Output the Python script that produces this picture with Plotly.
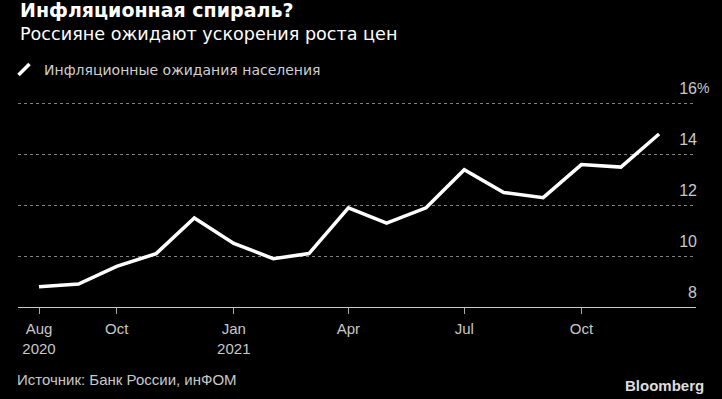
import plotly.graph_objects as go

# ---- data ----
months = ["2020-08-01", "2020-09-01", "2020-10-01", "2020-11-01", "2020-12-01",
          "2021-01-01", "2021-02-01", "2021-03-01", "2021-04-01", "2021-05-01",
          "2021-06-01", "2021-07-01", "2021-08-01", "2021-09-01", "2021-10-01",
          "2021-11-01", "2021-12-01"]
expectations = [8.8, 8.9, 9.6, 10.1, 11.5, 10.5, 9.9, 10.1, 11.9, 11.3,
                11.9, 13.4, 12.5, 12.3, 13.6, 13.5, 14.8]

x_tick_dates = ["2020-08-01", "2020-10-01", "2021-01-01", "2021-04-01", "2021-07-01", "2021-10-01"]
x_tick_labels = ["Aug<br>2020", "Oct", "Jan<br>2021", "Apr", "Jul", "Oct"]
y_tick_values = [8, 10, 12, 14, 16]
y_tick_labels = ["8", "10", "12", "14", "16"]

title_text = "Инфляционная спираль?"
subtitle_text = "Россияне ожидают ускорения роста цен"
series_name = "Инфляционные ожидания населения"
source_text = "Источник: Банк России, инФОМ"
brand_text = "Bloomberg"

# ---- layout geometry ----
W, H = 722, 399
ML, MR, MT, MB = 18, 26, 73, 92
PLOT_H = H - MT - MB
PLOT_W = W - ML - MR
BOTTOM = H - MB


def py(pix):
    return (BOTTOM - pix) / PLOT_H


def px(pix):
    return (pix - ML) / PLOT_W


SANS = "DejaVu Sans"
AXF = "Liberation Sans"

fig = go.Figure()
fig.add_trace(go.Scatter(
    x=months, y=expectations, mode="lines",
    line=dict(color="#ffffff", width=3.5),
    showlegend=False, hoverinfo="skip",
))
# legend entry with a slanted stroke icon
fig.add_trace(go.Scatter(
    x=[None], y=[None], mode="markers", name=series_name,
    marker=dict(symbol="line-ne", size=11, color="#ffffff",
                line=dict(color="#ffffff", width=3.5)),
    showlegend=True,
))

fig.update_layout(
    width=W, height=H,
    margin=dict(l=ML, r=MR, t=MT, b=MB, autoexpand=False),
    paper_bgcolor="#000000", plot_bgcolor="#000000",
    showlegend=True,
    legend=dict(x=px(4), y=py(70), xanchor="left", yanchor="middle",
                font=dict(family=SANS, size=14, color="#d0d0d0"),
                bgcolor="rgba(0,0,0,0)", itemwidth=30, tracegroupgap=0),
    xaxis=dict(
        type="date", range=["2020-07-15 12:00", "2021-12-30"],
        tickvals=x_tick_dates, ticktext=x_tick_labels,
        ticks="outside", ticklen=6, tickcolor="#aaaaaa", tickwidth=1,
        showline=True, linecolor="#c8c8c8", linewidth=1,
        showgrid=False, zeroline=False, ticklabelstandoff=2,
        tickfont=dict(family=AXF, size=15, color="#c8c8c8"),
    ),
    yaxis=dict(
        range=[8, 17.2], side="right",
        tickvals=y_tick_values, ticktext=y_tick_labels,
        ticklabelposition="inside", ticks="", ticklabelshift=-15,
        ticklabelstandoff=-4,
        showgrid=True, gridcolor="#808080", griddash="dot", gridwidth=1,
        zeroline=False, showline=False,
        tickfont=dict(family=AXF, size=16, color="#c8c8c8"),
    ),
    annotations=[
        dict(text="<b>" + title_text + "</b>", xref="paper", yref="paper",
             x=px(18), y=py(10), xanchor="left", yanchor="middle", showarrow=False,
             font=dict(family=SANS, size=19, color="#ffffff")),
        dict(text=subtitle_text, xref="paper", yref="paper",
             x=px(18), y=py(34), xanchor="left", yanchor="middle", showarrow=False,
             font=dict(family=SANS, size=17.6, color="#ffffff")),
        dict(text=source_text, xref="paper", yref="paper",
             x=px(15), y=py(379), xanchor="left", yanchor="middle", showarrow=False,
             font=dict(family=AXF, size=15, color="#c8c8c8")),
        dict(text="<b>" + brand_text + "</b>", xref="paper", yref="paper",
             x=px(706), y=py(385), xanchor="right", yanchor="middle", showarrow=False,
             font=dict(family=AXF, size=15, color="#dddddd")),
        dict(text="%", xref="paper", yref="y",
             x=px(695), y=16, yshift=16, xanchor="left", yanchor="middle", showarrow=False,
             font=dict(family=AXF, size=14, color="#c8c8c8")),
    ],
)

fig.write_html("out.html", config={"displayModeBar": False},
               post_script="document.body.style.margin='0';")
